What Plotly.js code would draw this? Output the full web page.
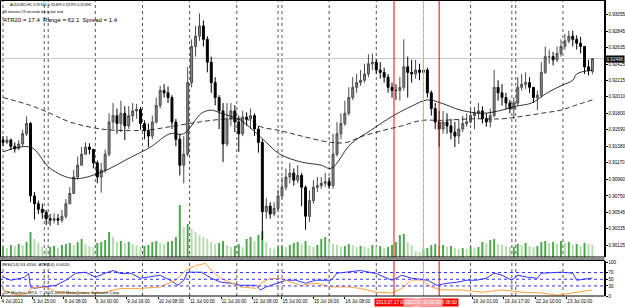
<!DOCTYPE html>
<html><head><meta charset="utf-8">
<script src="https://cdn.plot.ly/plotly-3.0.1.min.js"></script>
<style>html,body{margin:0;padding:0;background:#fff;}#chart{width:625px;height:308px;}</style>
</head><body><div id="chart"></div>
<script>
const symbol = 'AUDUSD,H1';
// two-hour sampled H1 candles (bar numbers count H1 bars from 5 Jul 00:00)
const open = [
.9146,.9143,.9146,.9138,.9135,.9141,.9154,.9167,.9075,.9065,
.9058,.9054,.9046,.9044,.9046,.9044,.9049,.9065,.9078,.9099,
.9114,.9128,.9137,.9134,.9117,.9099,.9108,.9128,.9169,.9177,
.9167,.9180,.9164,.9177,.9183,.9185,.9167,.9158,.9151,.9169,
.9190,.9209,.9206,.9200,.9169,.9147,.9114,.9128,.9219,.9265,
.9278,.9291,.9274,.9245,.9219,.9200,.9183,.9141,.9173,.9183,
.9169,.9154,.9175,.9173,.9177,.9160,.9143,.9055,.9062,.9052,
.9059,.9075,.9086,.9099,.9104,.9095,.9101,.9086,.9049,.9069,
.9086,.9088,.9091,.9093,.9088,.9128,.9154,.9167,.9180,.9200,
.9213,.9219,.9222,.9230,.9243,.9245,.9235,.9232,.9226,.9213,
.9209,.9209,.9213,.9239,.9232,.9230,.9235,.9232,.9235,.9206,
.9186,.9169,.9160,.9169,.9164,.9156,.9151,.9160,.9167,.9169,
.9177,.9180,.9183,.9173,.9169,.9177,.9213,.9206,.9200,.9193,
.9186,.9193,.9213,.9217,.9219,.9213,.9200,.9203,.9232,.9252,
.9252,.9248,.9256,.9265,.9272,.9278,.9274,.9269,.9265,.9239,
0.92334];
const high = [
.9151,.9151,.9148,.9143,.9146,.9159,.9176,.9169,.9080,.9069,
.9065,.9057,.9052,.9053,.9052,.9057,.9071,.9086,.9108,.9125,
.9137,.9143,.9142,.9135,.9120,.9117,.9134,.9180,.9193,.9186,
.9196,.9189,.9189,.9193,.9192,.9188,.9171,.9167,.9177,.9200,
.9215,.9217,.9214,.9203,.9173,.9154,.9151,.9239,.9274,.9291,
.9307,.9298,.9278,.9252,.9226,.9203,.9193,.9193,.9193,.9190,
.9177,.9183,.9181,.9186,.9180,.9164,.9147,.9072,.9067,.9067,
.9083,.9099,.9110,.9117,.9110,.9114,.9104,.9088,.9082,.9095,
.9099,.9099,.9104,.9099,.9154,.9169,.9180,.9196,.9213,.9226,
.9230,.9235,.9243,.9255,.9256,.9249,.9245,.9238,.9230,.9219,
.9217,.9226,.9274,.9252,.9248,.9248,.9243,.9248,.9238,.9209,
.9193,.9183,.9183,.9180,.9173,.9169,.9172,.9177,.9180,.9186,
.9188,.9193,.9189,.9180,.9186,.9235,.9222,.9217,.9206,.9197,
.9200,.9226,.9230,.9232,.9226,.9213,.9209,.9245,.9265,.9261,
.9258,.9265,.9274,.9281,.9285,.9285,.9279,.9277,.9265,.9248,
0.92499];
const low = [
.9138,.9141,.9133,.9130,.9133,.9138,.9151,.9067,.9045,.9052,
.9046,.9038,.9037,.9040,.9038,.9041,.9046,.9065,.9078,.9096,
.9114,.9128,.9128,.9110,.9091,.9079,.9104,.9125,.9160,.9154,
.9156,.9146,.9160,.9169,.9173,.9159,.9147,.9137,.9147,.9167,
.9186,.9200,.9193,.9160,.9138,.9101,.9091,.9125,.9213,.9252,
.9272,.9265,.9232,.9206,.9190,.9160,.9118,.9138,.9164,.9156,
.9131,.9151,.9164,.9160,.9151,.9130,.9019,.9046,.9046,.9049,
.9055,.9072,.9082,.9091,.9088,.9091,.9062,.9032,.9042,.9065,
.9080,.9084,.9086,.9084,.9084,.9125,.9147,.9164,.9177,.9197,
.9206,.9215,.9219,.9226,.9235,.9230,.9224,.9219,.9206,.9200,
.9197,.9196,.9209,.9200,.9219,.9224,.9222,.9226,.9200,.9177,
.9160,.9137,.9154,.9154,.9147,.9137,.9141,.9156,.9163,.9167,
.9160,.9173,.9167,.9163,.9162,.9175,.9196,.9190,.9185,.9180,
.9173,.9190,.9209,.9211,.9206,.9193,.9184,.9200,.9230,.9243,
.9241,.9245,.9252,.9261,.9269,.9265,.9261,.9256,.9230,.9228,
0.92295];
const close = [
.9143,.9146,.9138,.9135,.9141,.9154,.9167,.9075,.9065,.9058,
.9054,.9046,.9044,.9046,.9044,.9049,.9065,.9078,.9099,.9114,
.9128,.9137,.9134,.9117,.9099,.9108,.9128,.9169,.9177,.9167,
.9180,.9164,.9177,.9183,.9185,.9167,.9158,.9151,.9169,.9190,
.9209,.9206,.9200,.9169,.9147,.9114,.9128,.9219,.9265,.9278,
.9291,.9274,.9245,.9219,.9200,.9183,.9141,.9173,.9183,.9169,
.9154,.9175,.9173,.9177,.9160,.9143,.9055,.9062,.9052,.9059,
.9075,.9086,.9099,.9104,.9095,.9101,.9086,.9049,.9069,.9086,
.9088,.9091,.9093,.9088,.9128,.9154,.9167,.9180,.9200,.9213,
.9219,.9222,.9230,.9243,.9245,.9235,.9232,.9226,.9213,.9209,
.9209,.9213,.9239,.9232,.9230,.9235,.9232,.9235,.9206,.9186,
.9169,.9160,.9169,.9164,.9156,.9151,.9160,.9167,.9169,.9177,
.9180,.9183,.9173,.9169,.9177,.9213,.9206,.9200,.9193,.9186,
.9193,.9213,.9217,.9219,.9213,.9200,.9203,.9232,.9252,.9252,
.9248,.9256,.9265,.9272,.9278,.9274,.9269,.9265,.9239,.9234,
0.92496];
const volume = [
1000,900,1200,1100,1300,1200,1500,2500,1800,1400,
1000,900,1000,1100,900,1200,1300,1400,1200,1500,
1800,1300,1100,1000,1400,1500,1700,2500,2000,1500,
1600,1400,1500,1300,1200,1000,1100,1200,1500,1600,
1400,1300,1500,1600,2000,5200,3000,3300,2800,2500,
2200,2000,1800,1500,1300,1400,1600,1200,1000,1100,
1300,1000,1800,2000,1600,2200,2600,1500,900,800,
1000,1100,1000,1200,1400,1500,1300,1600,1100,1000,
1200,1800,2000,1500,1300,1200,1000,1100,1300,1200,
1000,1100,1000,900,1200,1000,1100,900,1000,1200,
1500,2200,2300,1500,1200,600,500,800,900,1200,
1300,1100,1200,1000,1100,900,800,900,800,1000,
900,1000,1500,1400,1700,1800,1300,1200,1100,1000,
1000,1300,1200,1400,1100,1000,1100,1500,1600,1400,
1500,1300,1600,1400,1500,1200,1300,1100,1400,1300,
1200];
// moving averages (solid = mid, dashed = slow), read at sample bars
const maMidBar = [0,14,24,36,50,65,75,85,92,101,106,111,121,131,141,152,162,167,177,187,198,208,216,223,233,244,254,261,269,277,284,290,292,300];
const maMidVal = [.9131,.9137,.9110,.9097,.9105,.9124,.9137,.9154,.9154,.9180,.9184,.9180,.9171,.9150,.9128,.9118,.9114,.9110,.9141,.9158,.9176,.9189,.9197,.9193,.9184,.9180,.9184,.9189,.9193,.9206,.9215,.9222,.9230,.9235];
const maSlowBar = [0,14,24,34,50,65,75,85,95,106,116,126,131,141,152,167,175,182,193,203,213,223,239,254,264,274,284,290,300];
const maSlowVal = [.9200,.9190,.9180,.9169,.9160,.9158,.9159,.9163,.9167,.9171,.9173,.9171,.9163,.9158,.9151,.9143,.9143,.9150,.9158,.9164,.9171,.9171,.9173,.9173,.9176,.9180,.9184,.9189,.9197];
// RSI(14) and ATR(14)
const rsiBar = [0,4,9,11,13,14,16,21,27,32,37,42,47,52,56,60,65,70,75,80,85,89,92,94,98,101,106,111,116,121,129,131,134,139,144,149,154,159,167,170,175,182,190,198,203,208,216,221,226,231,236,241,246,250,254,259,262,267,272,274,284,290,292,300];
const rsiVal = [57,47,53,56,68,27,23,27,32,47,68,71,56,68,76,67,68,53,57,62,47,32,47,71,71,71,53,41,38,32,32,18,27,38,47,47,38,47,47,68,71,76,67,47,62,53,47,32,38,41,47,47,53,68,62,47,62,56,53,68,71,68,47,53.415];
const atrBar = [0,4,9,13,14,19,24,27,34,50,60,70,80,88,93,98,103,106,111,116,121,129,132,136,141,147,152,159,167,175,182,190,198,203,208,213,218,223,233,244,254,264,274,282,290,300];
const atrVal = [.0020,.0016,.0013,.0016,.0022,.0024,.0022,.0017,.0016,.0016,.0022,.0022,.0024,.0033,.0046,.0052,.0055,.0046,.0035,.0029,.0024,.0022,.0030,.0035,.0035,.0030,.0026,.0029,.0024,.0024,.0022,.0017,.0016,.0022,.0033,.0033,.0024,.0020,.0020,.0017,.0020,.0017,.0016,.0013,.0016,.0020];
const rsiLevels = [30,50,70];
// axis labels
const priceTicks = [0.93055,0.92845,0.92635,0.92425,0.92215,0.92010,0.91800,0.91590,0.91380,0.91170,0.90960,0.90750,0.90545,0.90335,0.90125,0.89915];
const rsiTicks = [0,30,50,70,100];
const timeTickBar = [-1,15,31,47,63,79,95,111,127,142,158,174,239,255,271,287];
const timeTickText = ['4 Jul 2013','5 Jul 15:00','8 Jul 08:00','9 Jul 00:00','9 Jul 16:00','10 Jul 08:00','11 Jul 00:00','11 Jul 16:00','12 Jul 08:00','15 Jul 00:00','15 Jul 16:00','16 Jul 08:00','19 Jul 01:00','19 Jul 17:00','22 Jul 10:00','23 Jul 02:00'];
const daySeparatorBar = [0,21,23,47,71,95,119,140,142,166,190,214,238,259,261,285];
const markerBar = [199,222,214];
const markerText = ['2013.07.17 09:00','2013.07.18 08:00','2013.07.18 00:00'];
const markerColor = ['#ff0000','#ff0000','#ff9c9c'];
const infoLines = ['36 minutes 23 seconds left to bar end','ATR20 = 17.4  Range = 62.1  Spread = 1.4'];
const subTitle = 'RSI(14) 53.4150  ATR(14) 0.0020';
const copyright = 'DF Markets MT4, \u00a9 2001-2013 MetaQuotes Software Corp.';

const W = 625, H = 308;
const px = x => x / W, py = y => 1 - y / H;
const n = close.length - 1;
const candleBar = close.map((_, k) => 2 * k);
const volColor = volume.map((v, k) => (k === 0 || v >= volume[k - 1]) ? '#4ba64b' : '#b2dcaa');
const F = 'Liberation Sans, Arial, sans-serif';
const xEnd = px(604.5);

const traces = [
  {type:'bar', x:candleBar, y:volume, xaxis:'x', yaxis:'y', marker:{color:volColor, line:{width:0}}, width:1.0, hoverinfo:'skip'},
  {type:'candlestick', x:candleBar, open:open, high:high, low:low, close:close, xaxis:'x', yaxis:'y3',
   increasing:{line:{color:'#4a4a4a', width:1}, fillcolor:'#8c8c8c'},
   decreasing:{line:{color:'#000000', width:1}, fillcolor:'#000000'}, whiskerwidth:0},
  {type:'scatter', mode:'lines', x:maMidBar, y:maMidVal, xaxis:'x', yaxis:'y3', line:{color:'#000', width:0.8, shape:'spline'}},
  {type:'scatter', mode:'lines', x:maSlowBar, y:maSlowVal, xaxis:'x', yaxis:'y3', line:{color:'#000', width:0.8, dash:'5px,3px', shape:'spline'}},
  {type:'scatter', mode:'lines', x:rsiBar, y:rsiVal, xaxis:'x', yaxis:'y2', line:{color:'#3434ff', width:1}},
  {type:'scatter', mode:'lines', x:atrBar, y:atrVal, xaxis:'x', yaxis:'y4', line:{color:'#ffa23c', width:1}}
];

const shapes = [];
daySeparatorBar.forEach(b => shapes.push({type:'line', layer:'below', xref:'x', yref:'paper', x0:b, x1:b, y0:py(296), y1:py(1), line:{color:'#555', width:1, dash:'dot'}}));
markerBar.forEach((b, i) => shapes.push({type:'line', xref:'x', yref:'paper', x0:b, x1:b, y0:py(296), y1:py(1), line:{color:markerColor[i], width:1}}));
shapes.push({type:'line', layer:'below', xref:'paper', yref:'y3', x0:0, x1:xEnd, y0:close[n], y1:close[n], line:{color:'#c8c8c8', width:1}});
rsiLevels.forEach(l => shapes.push({type:'line', xref:'paper', yref:'y2', x0:0, x1:xEnd, y0:l, y1:l, line:{color:'#3030ff', width:1, dash:'dot'}}));
shapes.push({type:'rect', xref:'paper', yref:'paper', x0:px(0.5), x1:xEnd, y0:py(257), y1:py(0.5), line:{color:'#000', width:1}});
shapes.push({type:'rect', xref:'paper', yref:'paper', x0:px(0), x1:xEnd, y0:py(260.5), y1:py(257.5), line:{width:0}, fillcolor:'#8a8a8a'});
shapes.push({type:'rect', xref:'paper', yref:'paper', x0:px(0.5), x1:xEnd, y0:py(296), y1:py(260.5), line:{color:'#000', width:1}});

const annotations = [
  {xref:'paper', yref:'paper', x:px(8), y:py(5), xanchor:'left', yanchor:'middle', showarrow:false, font:{family:F, size:3.8, color:'#000'},
   text:`${symbol} ${open[n].toFixed(5)} ${high[n].toFixed(5)} ${low[n].toFixed(5)} ${close[n].toFixed(5)}`},
  {xref:'paper', yref:'paper', x:px(1), y:py(11.5), xanchor:'left', yanchor:'middle', showarrow:false, font:{family:F, size:3.6, color:'#000'}, text:infoLines[0]},
  {xref:'paper', yref:'paper', x:px(0.5), y:py(20), xanchor:'left', yanchor:'middle', showarrow:false, font:{family:F, size:6, color:'#000'}, text:infoLines[1]},
  {xref:'paper', yref:'paper', x:px(2), y:py(264.5), xanchor:'left', yanchor:'middle', showarrow:false, font:{family:F, size:4.4, color:'#000'}, text:subTitle},
  {xref:'paper', yref:'paper', x:px(2), y:py(292.5), xanchor:'left', yanchor:'middle', showarrow:false, font:{family:F, size:4.4, color:'#000'}, text:copyright},
  {xref:'paper', yref:'y3', x:xEnd, y:close[n], xanchor:'left', yanchor:'middle', showarrow:false, bgcolor:'#000', borderpad:0.5,
   font:{family:F, size:4.6, color:'#fff'}, text:close[n].toFixed(5)}
];
markerBar.forEach((b, i) => annotations.push({xref:'x', yref:'paper', x:b, y:py(302), xanchor:'center', yanchor:'middle', showarrow:false,
  bgcolor:markerColor[i], borderpad:1, font:{family:F, size:4.6, color:'#fff'}, text:markerText[i]}));

const layout = {
  width:W, height:H, autosize:false, margin:{l:0, r:0, t:0, b:0},
  paper_bgcolor:'#fff', plot_bgcolor:'#fff', showlegend:false,
  font:{family:F, size:4.6, color:'#000'},
  xaxis:{domain:[0, xEnd], range:[-1.528, 306.16], anchor:'y2', showgrid:false, zeroline:false, showline:false,
    rangeslider:{visible:false}, tickmode:'array', tickvals:timeTickBar, ticktext:timeTickText, tickangle:0,
    ticks:'outside', ticklen:2, tickcolor:'#000', ticklabelposition:'outside right', tickfont:{family:F, size:4.6, color:'#000'}},
  yaxis:{domain:[py(257), 1], range:[0, 25700], visible:false, fixedrange:true},
  yaxis3:{overlaying:'y', side:'right', anchor:'x', range:[0.899733, 0.9324], tickmode:'array', tickvals:priceTicks, tickformat:'.5f',
    ticks:'outside', ticklen:2, tickcolor:'#000', showline:true, linecolor:'#000', linewidth:1, showgrid:false, zeroline:false,
    tickfont:{family:F, size:4.6, color:'#000'}},
  yaxis2:{domain:[py(296), py(260.5)], range:[0, 105.88], side:'right', anchor:'x', tickmode:'array', tickvals:rsiTicks,
    ticks:'outside', ticklen:2, tickcolor:'#000', showline:true, linecolor:'#000', showgrid:false, zeroline:false,
    tickfont:{family:F, size:4.6, color:'#000'}},
  yaxis4:{overlaying:'y2', range:[0.0012, 0.00588], visible:false},
  shapes:shapes, annotations:annotations
};
Plotly.newPlot('chart', traces, layout, {staticPlot:true, displayModeBar:false});
</script></body></html>
